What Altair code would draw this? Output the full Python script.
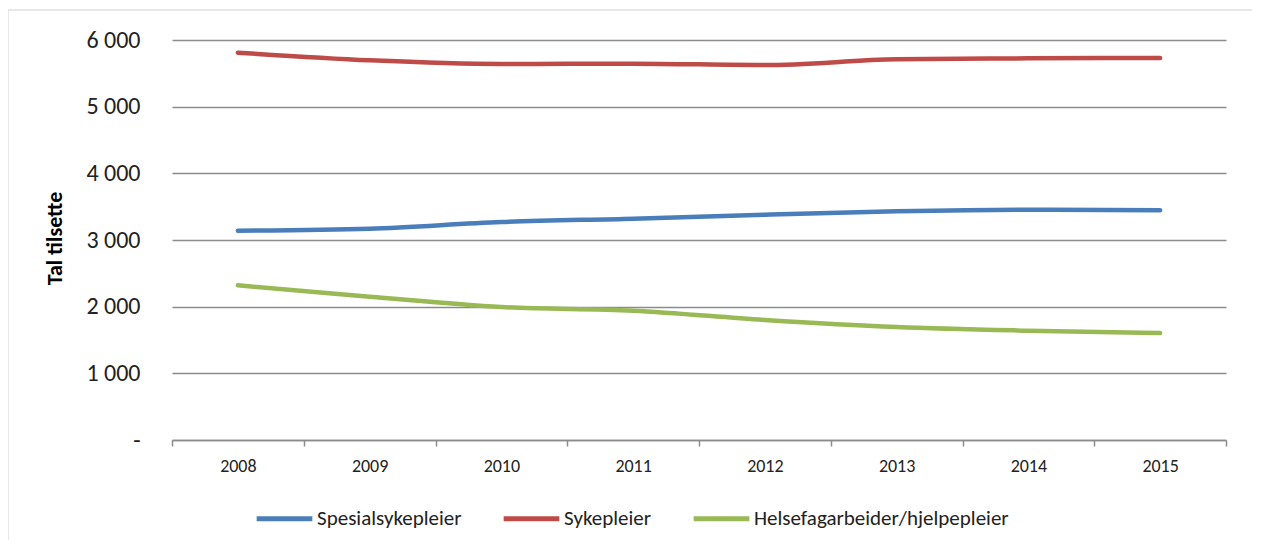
import altair as alt
import pandas as pd

years = ["2008", "2009", "2010", "2011", "2012", "2013", "2014", "2015"]
spesialsykepleier = [3140, 3170, 3270, 3320, 3380, 3430, 3455, 3445]
sykepleier = [5810, 5695, 5640, 5645, 5625, 5710, 5725, 5730]
helsefag = [2320, 2150, 1995, 1940, 1800, 1695, 1640, 1605]

series_names = ["Spesialsykepleier", "Sykepleier", "Helsefagarbeider/hjelpepleier"]
series_colors = ["#4a7ebb", "#be4b48", "#98b954"]
y_ticks = [0, 1000, 2000, 3000, 4000, 5000, 6000]

rows = []
for name, vals in zip(series_names, [spesialsykepleier, sykepleier, helsefag]):
    for yr, v in zip(years, vals):
        rows.append({"Year": yr, "Value": v, "Series": name})
df = pd.DataFrame(rows)

FONT = "Carlito, Lato, sans-serif"

lines = alt.Chart(df).mark_line(strokeWidth=4.5, strokeCap="round", interpolate="monotone").encode(
    x=alt.X("Year:N", bandPosition=0.5,
            scale=alt.Scale(type="band", domain=years, paddingInner=0, paddingOuter=0),
            axis=alt.Axis(title=None, labelAngle=0, tickBand="extent", grid=False,
                          domainColor="#8c8c8c", domainWidth=1.5, tickColor="#8c8c8c",
                          tickWidth=1.5, tickSize=6, labelFontSize=18, labelPadding=11,
                          labelColor="#222222", labelFont=FONT)),
    y=alt.Y("Value:Q", scale=alt.Scale(domain=[0, 6000], nice=False),
            axis=alt.Axis(values=y_ticks, title="Tal tilsette", domain=False, ticks=False,
                          gridColor="#8c8c8c", gridWidth=1.5, labelFontSize=24,
                          labelPadding=32, labelColor="#222222", labelFont=FONT,
                          labelExpr="datum.value == 0 ? '-' : replace(format(datum.value, ',d'), ',', ' ')",
                          titleFont=FONT, titleFontSize=22, titleFontWeight="bold",
                          titleColor="#000000", titleX=-118, titleY=198, titleAngle=-90,
                          titleAlign="center", titleBaseline="middle")),
    color=alt.Color("Series:N", sort=series_names,
                    scale=alt.Scale(domain=series_names, range=series_colors),
                    legend=alt.Legend(title=None, orient="none", direction="horizontal",
                                      legendX=82, legendY=448, symbolType="stroke",
                                      symbolSize=3100, symbolStrokeWidth=5,
                                      labelFontSize=21, labelFont=FONT, labelColor="#222222",
                                      labelOffset=2, labelLimit=400, columnPadding=31)),
)

frame = alt.Chart(pd.DataFrame({"f": [0]})).mark_rect(fill=None, stroke="#d0d0d0", strokeWidth=1).encode(
    x=alt.value(-164), x2=alt.value(1082), y=alt.value(-30), y2=alt.value(560)
)

chart = alt.layer(frame, lines).properties(
    width=1054, height=400,
    autosize=alt.AutoSizeParams(type="none"),
    padding={"left": 164, "top": 32, "right": 26, "bottom": 100},
).configure_view(stroke=None)

chart.save("out.html", embed_options={"renderer": "svg", "actions": False})
